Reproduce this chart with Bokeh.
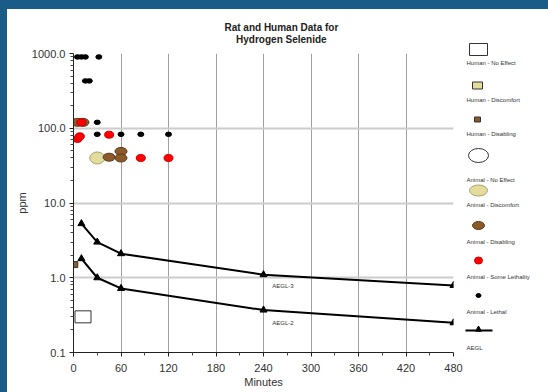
from bokeh.plotting import figure
from bokeh.models import FixedTicker, PrintfTickFormatter, Range1d, Label, Div
from bokeh.layouts import row, column
from bokeh.embed import file_html
from bokeh.resources import INLINE
from bokeh.core.properties import value

FONT = "Liberation Sans"

# ---------------- data ----------------
title_lines = ["Rat and Human Data for", "Hydrogen Selenide"]
x_ticks = [0, 60, 120, 180, 240, 300, 360, 420, 480]
x_minor = [30, 90, 150, 210, 270, 330, 390, 450]
y_ticks = [0.1, 1, 10, 100, 1000]
y_minor = [k * d for d in (0.1, 1, 10, 100) for k in range(2, 10)]

aegl_times = [10, 30, 60, 240, 480]
aegl3 = [5.3, 3.0, 2.1, 1.1, 0.79]
aegl2 = [1.8, 1.0, 0.72, 0.37, 0.25]

lethal_t = [5, 10, 15, 32, 15, 20, 30, 30, 60, 85, 120]
lethal_v = [900, 900, 900, 900, 430, 430, 120, 83, 83, 83, 83]

some_leth_t = [10, 5, 8, 45, 85, 120]
some_leth_v = [120, 72, 78, 82, 40, 40]

disabling_t = [5, 12, 45, 60, 60]
disabling_v = [120, 120, 41, 49, 40]

discomfort_t = [30]
discomfort_v = [40]

human_dis_t = [1]
human_dis_v = [1.5]

human_noeff_t = [12]
human_noeff_v = [0.3]

legend_labels = ["Human - No Effect", "Human - Discomfort", "Human - Disabling",
                 "Animal - No Effect", "Animal - Discomfort", "Animal - Disabling",
                 "Animal - Some Lethality", "Animal - Lethal", "AEGL"]

BROWN = "#8b5a2b"
BROWN_LINE = "#5a3a1a"
KHAKI = "#e4dc9c"
KHAKI_LINE = "#a8a070"
RED = "#ff0000"
BLUE = "#1a5b88"

# ---------------- title panel ----------------
tf = figure(width=457, height=36, x_range=Range1d(0, 457), y_range=Range1d(36, 0),
            x_axis_type=None, y_axis_type=None, output_backend="svg",
            toolbar_location=None, min_border=0)
tf.outline_line_color = None
tf.xgrid.visible = False
tf.ygrid.visible = False
tf.text(x=[250, 250], y=[18, 30], text=title_lines, text_font=value(FONT),
        text_font_size="10px", text_font_style="bold", text_color="#222222",
        text_align="center", text_baseline="middle")

# ---------------- main plot ----------------
p = figure(width=457, height=347, x_range=Range1d(0, 480), y_range=Range1d(0.1, 1000),
           y_axis_type="log", output_backend="svg", toolbar_location=None,
           min_border_left=66, min_border_right=11, min_border_top=8, min_border_bottom=40,
           title=None)
p.outline_line_color = None
p.background_fill_color = "white"
p.border_fill_color = "white"

p.xaxis.ticker = FixedTicker(ticks=x_ticks, minor_ticks=x_minor)
p.yaxis.ticker = FixedTicker(ticks=y_ticks, minor_ticks=y_minor)
p.yaxis.formatter = PrintfTickFormatter(format="%.1f")
p.xaxis.axis_label = "Minutes"
p.yaxis.axis_label = "ppm"
for ax in (p.xaxis, p.yaxis):
    ax.axis_label_text_font = FONT
    ax.axis_label_text_font_size = "11px"
    ax.axis_label_text_font_style = "normal"
    ax.axis_label_text_color = "#333333"
    ax.major_label_text_font = FONT
    ax.major_label_text_font_size = "11px"
    ax.major_label_text_color = "#333333"
    ax.axis_line_color = "#222222"
    ax.major_tick_line_color = "#222222"
    ax.minor_tick_line_color = "#444444"
    ax.major_tick_in = 0
    ax.major_tick_out = 4
    ax.minor_tick_in = 0
    ax.minor_tick_out = 3
p.xaxis.axis_label_standoff = 1
p.yaxis.axis_label_standoff = 1
p.xaxis.major_label_standoff = 7
p.yaxis.major_label_standoff = 4

p.xgrid.ticker = FixedTicker(ticks=x_ticks)
p.ygrid.ticker = FixedTicker(ticks=y_ticks)
p.xgrid.grid_line_color = "#a0a0a0"
p.xgrid.grid_line_width = 1
p.ygrid.grid_line_color = "#cccccc"
p.ygrid.grid_line_width = 2

# AEGL lines
p.line(aegl_times, aegl3, line_color="black", line_width=2)
p.line(aegl_times, aegl2, line_color="black", line_width=2)
p.scatter(aegl_times, aegl3, marker="triangle", size=7, color="black")
p.scatter(aegl_times, aegl2, marker="triangle", size=7, color="black")

p.add_layout(Label(x=251, y=0.77, text="AEGL-3", text_font=FONT, text_font_size="6px",
                   text_baseline="middle", text_color="#333333"))
p.add_layout(Label(x=251, y=0.245, text="AEGL-2", text_font=FONT, text_font_size="6px",
                   text_baseline="middle", text_color="#333333",
                   background_fill_color="white", background_fill_alpha=0.8))

# human markers
p.rect(human_noeff_t, human_noeff_v, width=16, height=12, width_units="screen",
       height_units="screen", fill_color="white", line_color="#333333", line_width=1)
p.rect(human_dis_t, human_dis_v, width=7, height=6, width_units="screen",
       height_units="screen", fill_color=BROWN, line_color="#333333", line_width=1)

# animal markers
p.ellipse(discomfort_t, discomfort_v, width=15, height=12, width_units="screen",
          height_units="screen", fill_color=KHAKI, line_color=KHAKI_LINE)
p.ellipse(disabling_t, disabling_v, width=12, height=8, width_units="screen",
          height_units="screen", fill_color=BROWN, line_color=BROWN_LINE)
p.ellipse(some_leth_t, some_leth_v, width=9, height=7, width_units="screen",
          height_units="screen", fill_color=RED, line_color="#cc0000")
p.ellipse(lethal_t, lethal_v, width=6, height=4.5, width_units="screen",
          height_units="screen", fill_color="black", line_color="black")

# ---------------- legend panel ----------------
lg = figure(width=84, height=383, x_range=Range1d(0, 84), y_range=Range1d(383, 0),
            x_axis_type=None, y_axis_type=None, output_backend="svg",
            toolbar_location=None, min_border=0)
lg.outline_line_color = None
lg.xgrid.visible = False
lg.ygrid.visible = False

lg.rect([14], [40], width=18, height=12, fill_color="white", line_color="#333333")
lg.rect([13], [76], width=10, height=7, fill_color=KHAKI, line_color="#333333")
lg.rect([13], [110], width=6, height=5, fill_color=BROWN, line_color="#333333")
lg.ellipse([14], [146], width=20, height=14, fill_color="white", line_color="#333333")
lg.ellipse([14], [181], width=18, height=11, fill_color=KHAKI, line_color=KHAKI_LINE)
lg.ellipse([14], [216], width=12, height=8, fill_color=BROWN, line_color=BROWN_LINE)
lg.ellipse([14], [251], width=8, height=7, fill_color=RED, line_color="#cc0000")
lg.ellipse([14], [286], width=5, height=4, fill_color="black", line_color="black")
lg.line([1, 28], [321, 321], line_color="black", line_width=2)
lg.scatter([14], [320], marker="triangle", size=6, color="black")

label_y = [53, 90, 124, 170, 195, 232, 267, 302, 338]
lg.text(x=[2] * len(legend_labels), y=label_y, text=legend_labels,
        text_font=value(FONT), text_font_size="6px", text_baseline="middle",
        text_color="#333333")

# ---------------- frame ----------------
top = Div(text="", width=548, height=9, margin=0,
          styles={"background-color": BLUE})
left = Div(text="", width=7, height=383, margin=0,
           styles={"background-color": BLUE})
layout = column(top, row(left, column(tf, p, spacing=0), lg, spacing=0), spacing=0)

open("out.html", "w").write(file_html(layout, INLINE))
